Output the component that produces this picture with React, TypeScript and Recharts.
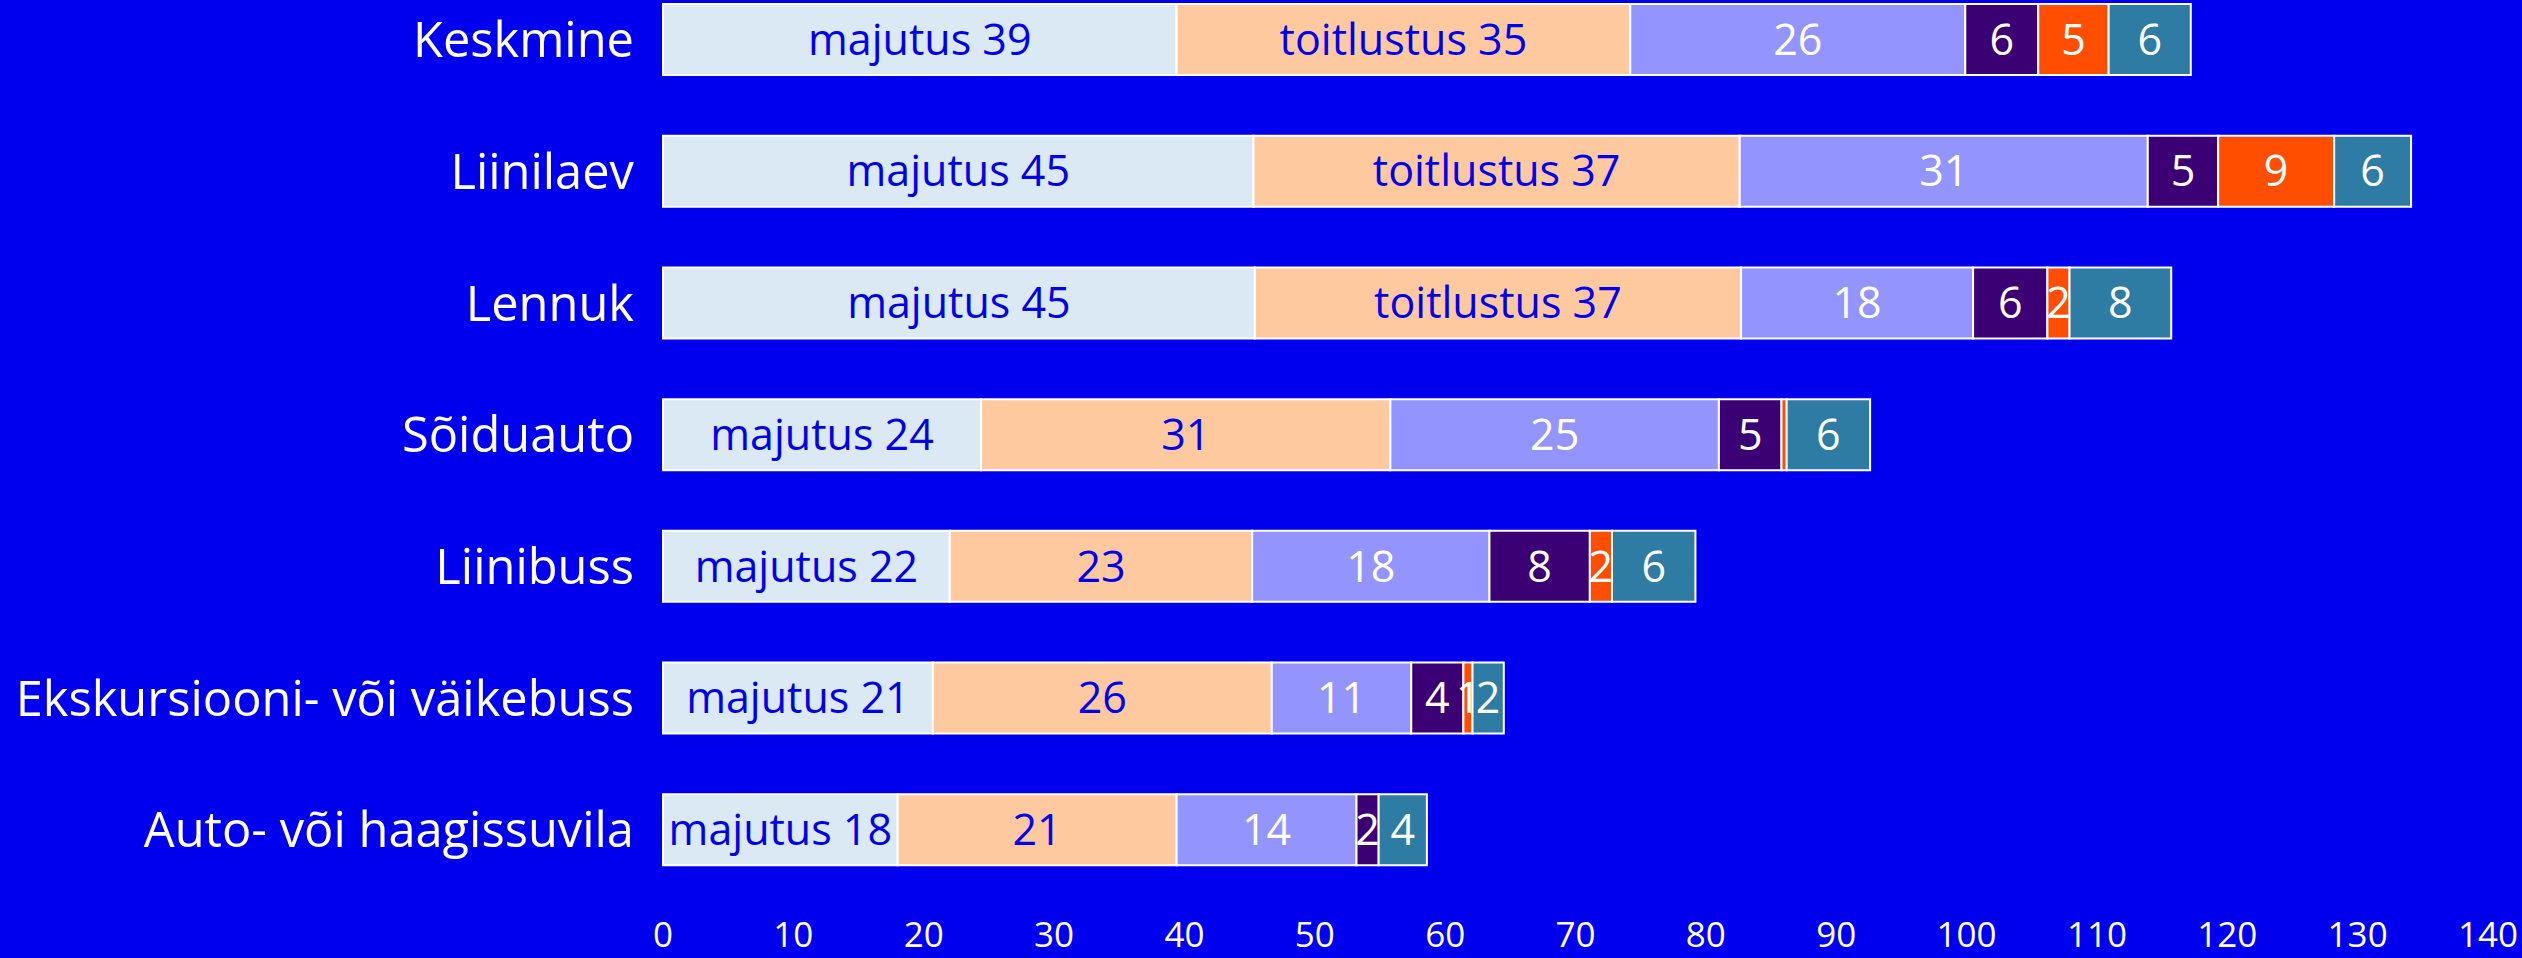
import React from 'react';
import { BarChart, Bar, XAxis, YAxis, LabelList } from 'recharts';

const categories = [
  'Keskmine',
  'Liinilaev',
  'Lennuk',
  'Sõiduauto',
  'Liinibuss',
  'Ekskursiooni- või väikebuss',
  'Auto- või haagissuvila',
];
const majutus = [39.4, 45.3, 45.4, 24.4, 22.0, 20.7, 18.0];
const toitlustus = [34.8, 37.3, 37.3, 31.4, 23.2, 26.0, 21.4];
const ostlemine = [25.7, 31.3, 17.8, 25.2, 18.2, 10.7, 13.8];
const meelelahutus = [5.6, 5.4, 5.7, 4.8, 7.7, 4.0, 1.7];
const transport = [5.4, 8.9, 1.7, 0.4, 1.7, 0.7, 0];
const muu = [6.3, 5.9, 7.8, 6.4, 6.4, 2.4, 3.7];
const toitlustusNamed = [true, true, true, false, false, false, false];
const xTicks = [0, 10, 20, 30, 40, 50, 60, 70, 80, 90, 100, 110, 120, 130, 140];

const seriesValues = [majutus, toitlustus, ostlemine, meelelahutus, transport, muu];
const seriesColors = ['#dae9f3', '#ffc99f', '#9494ff', '#3b0073', '#ff4e00', '#2e7ca3'];
const labelColors = ['#0000ee', '#0000ee', '#ffffff', '#ffffff', '#ffffff', '#ffffff'];

const fmt = (v: number) => {
  const r = Math.round(v);
  return r > 0 ? String(r) : '';
};

const data = categories.map((name, i) => {
  const row: Record<string, string | number> = { name };
  seriesValues.forEach((vals, s) => {
    row['s' + s] = vals[i];
    let lab = fmt(vals[i]);
    if (s === 0 && lab) lab = 'majutus ' + lab;
    if (s === 1 && lab && toitlustusNamed[i]) lab = 'toitlustus ' + lab;
    row['l' + s] = lab;
  });
  return row;
});

const FONT = '"Open Sans", sans-serif';

export default function App() {
  return (
    <div style={{ position: 'fixed', left: 0, top: 0, width: 2522, height: 958, background: '#0000ee' }}>
      <BarChart
        width={2522}
        height={958}
        data={data}
        layout="vertical"
        margin={{ top: -26, right: 34, bottom: 0, left: 0 }}
        barSize={71}
      >
        <XAxis
          type="number"
          domain={[0, 140]}
          ticks={xTicks}
          axisLine={false}
          tickLine={false}
          tickSize={0}
          tickMargin={26}
          height={62}
          interval={0}
          tick={{ fill: '#ffffff', fontSize: 35, fontFamily: FONT }}
        />
        <YAxis
          type="category"
          dataKey="name"
          width={663}
          axisLine={false}
          tickLine={false}
          tickSize={0}
          tickMargin={29}
          interval={0}
          tick={{ fill: '#ffffff', fontSize: 48.8, fontFamily: FONT }}
        />
        {seriesValues.map((_, s) => (
          <Bar
            key={s}
            dataKey={'s' + s}
            stackId="a"
            fill={seriesColors[s]}
            stroke="#ffffff"
            strokeWidth={2}
            isAnimationActive={false}
          >
            <LabelList
              dataKey={'l' + s}
              position="center"
              fill={labelColors[s]}
              style={{ fontSize: 43, fontFamily: FONT }}
            />
          </Bar>
        ))}
      </BarChart>
    </div>
  );
}
